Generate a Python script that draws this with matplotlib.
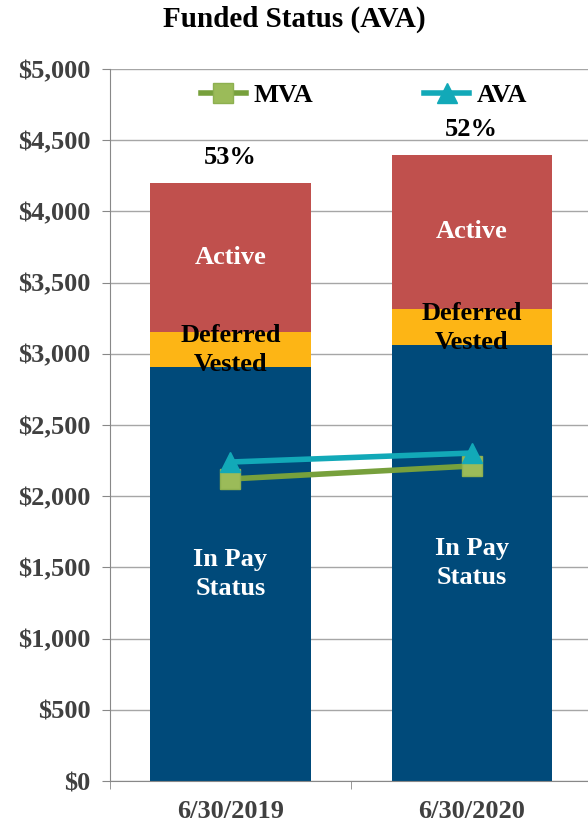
import matplotlib
matplotlib.use("Agg")
import matplotlib.pyplot as plt
from matplotlib.ticker import FuncFormatter

plt.rcParams['font.family'] = ['Liberation Serif', 'DejaVu Serif']
plt.rcParams['font.weight'] = 'bold'

dates = ["6/30/2019", "6/30/2020"]
in_pay = [2907, 3062]
deferred = [246, 253]
active = [1046, 1081]
mva = [2121, 2212]
ava = [2240, 2303]
funded_pct = ["53%", "52%"]

c_pay = "#004A7A"
c_def = "#FDB515"
c_act = "#C0504D"
c_mva = "#9BBB59"
c_ava = "#12A9B8"

fs = 19

fig = plt.figure(figsize=(5.88, 8.27), dpi=100)
ax = fig.add_axes([0.187, 0.0556, 0.82, 0.861])

x = list(range(len(dates)))
w = 0.664
bottom2 = [a + b for a, b in zip(in_pay, deferred)]
totals = [a + b for a, b in zip(bottom2, active)]

ax.bar(x, in_pay, w, color=c_pay, zorder=2)
ax.bar(x, deferred, w, bottom=in_pay, color=c_def, zorder=2)
ax.bar(x, active, w, bottom=bottom2, color=c_act, zorder=2)

ax.plot(x, mva, color="#77A03C", lw=4, marker="s", ms=14,
        mfc=c_mva, mec="#8DB050", label="MVA", zorder=4)
ax.plot(x, ava, color=c_ava, lw=4, marker="^", ms=15,
        mfc=c_ava, mec=c_ava, label="AVA", zorder=4)

for i in x:
    ax.text(i, in_pay[i] * 0.5, "In Pay\nStatus", color="white", ha="center",
            va="center", fontsize=fs, fontweight="bold", linespacing=1.35, zorder=3)
    ax.text(i, in_pay[i] + deferred[i] / 2 - 5, "Deferred\nVested", color="black",
            ha="center", va="center", fontsize=fs, fontweight="bold",
            linespacing=1.35, zorder=3)
    ax.text(i, bottom2[i] + active[i] / 2, "Active", color="white",
            ha="center", va="center", fontsize=fs, fontweight="bold", zorder=3)
    ax.text(i, totals[i] + 180, funded_pct[i], color="black", ha="center",
            va="center", fontsize=fs, fontweight="bold", zorder=3)

ax.set_xlim(-0.5, 1.5)
ax.set_ylim(0, 5000)
ax.set_yticks(range(0, 5001, 500))
ax.yaxis.set_major_formatter(FuncFormatter(lambda v, p: "${:,.0f}".format(v)))
ax.set_xticks(x)
ax.set_xticklabels(dates)
ax.set_xticks([-0.5, 0.5, 1.5], minor=True)
ax.tick_params(axis="x", which="major", length=0, pad=14)
ax.tick_params(axis="x", which="minor", length=6, color="#888888", direction="out")
ax.tick_params(axis="y", length=6, color="#888888", direction="out", pad=8)
for lab in ax.get_xticklabels() + ax.get_yticklabels():
    lab.set_fontsize(fs)
    lab.set_fontweight("bold")
    lab.set_color("#404040")

ax.grid(axis="y", color="#A6A6A6", lw=1, zorder=0)
ax.set_axisbelow(True)
for s in ["top", "right"]:
    ax.spines[s].set_visible(False)
ax.spines["left"].set_color("#888888")
ax.spines["bottom"].set_color("#888888")

ax.legend(loc="upper center", bbox_to_anchor=(0.527, 1.013), ncol=2, frameon=False,
          handlelength=1.7, columnspacing=4.2, handletextpad=0.3,
          prop={"weight": "bold", "size": fs})

fig.suptitle("Funded Status (AVA)", y=0.993, fontsize=21, fontweight="bold")
fig.savefig("out.png", dpi=100)
